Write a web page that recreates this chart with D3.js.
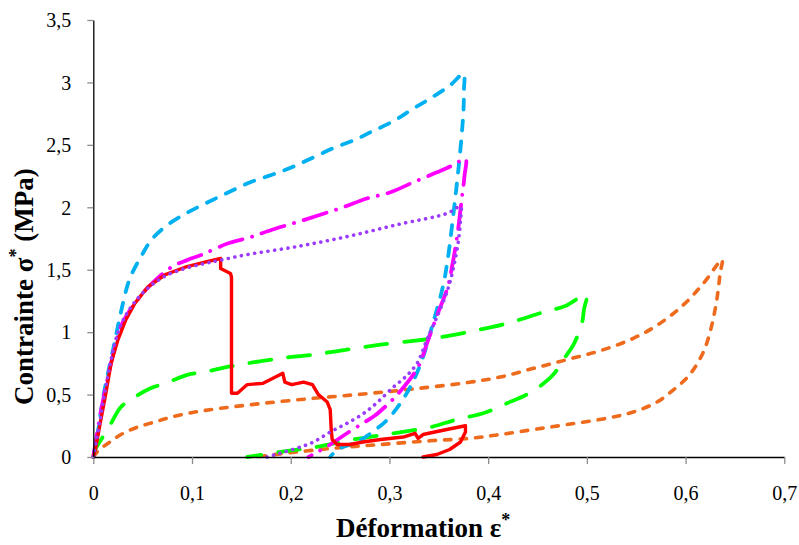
<!DOCTYPE html>
<html>
<head>
<meta charset="utf-8">
<script src="https://cdn.jsdelivr.net/npm/d3@7"></script>
<style>
  html, body { margin: 0; padding: 0; background: #fff; }
  svg { display: block; }
  text { font-family: "Liberation Serif", "Times New Roman", "DejaVu Serif", serif; }
</style>
</head>
<body>
<svg id="chart" width="799" height="545"></svg>
<script>
// ---- Data (strain ε*, stress σ* in MPa) ----
const xTicks = [0, 0.1, 0.2, 0.3, 0.4, 0.5, 0.6, 0.7];
const yTicks = [0, 0.5, 1, 1.5, 2, 2.5, 3, 3.5];

const blueStrain = [0, 0.005, 0.010, 0.020, 0.030, 0.037, 0.048, 0.060, 0.078, 0.096, 0.116, 0.137, 0.159, 0.181, 0.201, 0.223, 0.245, 0.265, 0.283, 0.304, 0.324, 0.343, 0.362, 0.375,
  0.3755, 0.375, 0.373, 0.369, 0.365, 0.359, 0.354, 0.344, 0.334, 0.323, 0.311, 0.298, 0.281, 0.267, 0.250, 0.242, 0.240];
const blueStress = [0, 0.22, 0.48, 0.86, 1.23, 1.43, 1.60, 1.75, 1.875, 1.96, 2.04, 2.12, 2.20, 2.26, 2.32, 2.40, 2.48, 2.54, 2.61, 2.69, 2.79, 2.88, 2.98, 3.07,
  2.94, 2.78, 2.56, 2.24, 1.96, 1.58, 1.36, 1.07, 0.80, 0.59, 0.43, 0.30, 0.19, 0.12, 0.07, 0.02, 0];

const magentaStrain = [0, 0.008, 0.022, 0.030, 0.045, 0.057, 0.079, 0.096, 0.110, 0.136, 0.159, 0.181, 0.206, 0.230, 0.253, 0.277, 0.301, 0.324, 0.348, 0.365, 0.377,
  0.376, 0.373, 0.369, 0.364, 0.359, 0.349, 0.338, 0.329, 0.308, 0.298, 0.285, 0.273, 0.257, 0.240, 0.227, 0.218];
const magentaStress = [0, 0.38, 0.88, 1.08, 1.26, 1.37, 1.52, 1.58, 1.62, 1.71, 1.76, 1.82, 1.88, 1.94, 2.00, 2.07, 2.12, 2.20, 2.28, 2.34, 2.39,
  2.25, 2.05, 1.79, 1.55, 1.36, 1.15, 0.91, 0.72, 0.50, 0.42, 0.33, 0.27, 0.19, 0.10, 0.04, 0];

const purpleStrain = [0, 0.007, 0.017, 0.027, 0.040, 0.055, 0.073, 0.093, 0.113, 0.128, 0.155, 0.206, 0.257, 0.3075, 0.358, 0.372,
  0.372, 0.370, 0.365, 0.359, 0.348, 0.338, 0.328, 0.316, 0.304, 0.288, 0.274, 0.257, 0.240, 0.223, 0.206, 0.189, 0.176];
const purpleStress = [0, 0.30, 0.74, 1.04, 1.22, 1.35, 1.45, 1.51, 1.55, 1.575, 1.62, 1.685, 1.765, 1.86, 1.95, 2.005,
  1.90, 1.74, 1.52, 1.34, 1.12, 0.94, 0.75, 0.64, 0.56, 0.44, 0.35, 0.27, 0.20, 0.12, 0.07, 0.03, 0];

const redStrain = [0, 0.002, 0.007, 0.012, 0.018, 0.025, 0.033, 0.042, 0.055, 0.073, 0.093, 0.113, 0.129,
  0.129, 0.139, 0.140, 0.140, 0.146, 0.156, 0.172, 0.182, 0.192, 0.194, 0.201, 0.213, 0.222, 0.228, 0.237, 0.240, 0.241, 0.242, 0.247,
  0.260, 0.273, 0.291, 0.314, 0.326, 0.329, 0.334, 0.358, 0.377, 0.377, 0.372, 0.361, 0.348, 0.334];
const redStress = [0, 0.055, 0.27, 0.48, 0.75, 0.94, 1.10, 1.23, 1.36, 1.46, 1.52, 1.56, 1.59,
  1.51, 1.47, 1.44, 0.51, 0.51, 0.58, 0.59, 0.63, 0.67, 0.60, 0.58, 0.60, 0.58, 0.50, 0.44, 0.38, 0.22, 0.14, 0.10,
  0.10, 0.12, 0.14, 0.16, 0.19, 0.15, 0.18, 0.22, 0.25, 0.20, 0.12, 0.06, 0.02, 0];

const greenStrain = [0, 0.002, 0.008, 0.018, 0.028, 0.042, 0.058, 0.076, 0.096, 0.113, 0.129, 0.156, 0.189, 0.223, 0.257, 0.291, 0.324, 0.345, 0.379, 0.419, 0.456, 0.478, 0.4995,
  0.497, 0.495, 0.4865, 0.478, 0.466, 0.453, 0.439, 0.419, 0.395, 0.368, 0.342, 0.304, 0.263, 0.226, 0.189, 0.156];
const greenStress = [0, 0.06, 0.14, 0.27, 0.40, 0.48, 0.55, 0.60, 0.66, 0.68, 0.71, 0.75, 0.79, 0.82, 0.86, 0.90, 0.93, 0.95, 1.00, 1.07, 1.16, 1.21, 1.30,
  1.18, 1.07, 0.90, 0.80, 0.66, 0.57, 0.50, 0.43, 0.35, 0.30, 0.24, 0.19, 0.14, 0.08, 0.04, 0];

const orangeStrain = [0, 0.005, 0.015, 0.028, 0.045, 0.062, 0.079, 0.103, 0.129, 0.172, 0.223, 0.274, 0.324, 0.378, 0.412, 0.446, 0.480, 0.513, 0.547, 0.574, 0.598, 0.618, 0.637,
  0.635, 0.632, 0.627, 0.620, 0.612, 0.602, 0.588, 0.571, 0.547, 0.520, 0.480, 0.446, 0.412, 0.382, 0.341, 0.291, 0.257, 0.206, 0.164];
const orangeStress = [0, 0.05, 0.11, 0.18, 0.24, 0.28, 0.32, 0.36, 0.39, 0.43, 0.47, 0.505, 0.545, 0.595, 0.64, 0.71, 0.78, 0.85, 0.95, 1.07, 1.22, 1.39, 1.58,
  1.47, 1.28, 1.07, 0.88, 0.75, 0.64, 0.54, 0.44, 0.36, 0.31, 0.26, 0.22, 0.18, 0.15, 0.13, 0.10, 0.08, 0.04, 0];

const series = [
  { name: "orange", strain: orangeStrain, stress: orangeStress, color: "#EE6B1E", width: 3.6, dash: "6.5,9", smooth: true },
  { name: "green", strain: greenStrain, stress: greenStress, color: "#00FF00", width: 3.8, dash: "22,17", smooth: true },
  { name: "blue", strain: blueStrain, stress: blueStress, color: "#00B0F0", width: 3.8, dash: "10,11", smooth: true },
  { name: "magenta", strain: magentaStrain, stress: magentaStress, color: "#FF00FF", width: 3.8, dash: "24,10,0.1,10", smooth: true },
  { name: "red", strain: redStrain, stress: redStress, color: "#FF0000", width: 3.4, dash: null, smooth: false },
  { name: "purple", strain: purpleStrain, stress: purpleStress, color: "#9B3BFF", width: 3.6, dash: "0.1,6.6", smooth: true }
];

// ---- Layout ----
const svg = d3.select("#chart");
const plotLeft = 93.3, plotRight = 784.3, plotTop = 20, plotBottom = 457;
const serif = "'Liberation Serif', 'Times New Roman', 'DejaVu Serif', serif";

const x = d3.scaleLinear().domain([0, 0.7]).range([plotLeft, plotRight]);
const y = d3.scaleLinear().domain([0, 3.5]).range([plotBottom, plotTop]);
const fmt = d => String(d).replace(".", ",");

// Curves
const g = svg.append("g");
series.forEach(s => {
  const pts = s.strain.map((v, i) => [v, s.stress[i]]);
  const line = d3.line()
    .x(d => x(d[0])).y(d => y(d[1]))
    .curve(s.smooth ? d3.curveCatmullRom.alpha(0.5) : d3.curveLinear);
  g.append("path")
    .attr("d", line(pts))
    .attr("fill", "none")
    .attr("stroke", s.color)
    .attr("stroke-width", s.width)
    .attr("stroke-linecap", "round")
    .attr("stroke-linejoin", "round")
    .attr("stroke-dasharray", s.dash);
});

// Y axis
const yAxis = svg.append("g")
  .attr("transform", `translate(${plotLeft},0)`)
  .call(d3.axisLeft(y).tickValues(yTicks).tickSize(6).tickSizeOuter(0).tickFormat(fmt));
yAxis.attr("font-family", serif);
yAxis.select(".domain").attr("stroke", "#000").attr("stroke-width", 1.3);
yAxis.selectAll(".tick line").attr("stroke", "#8c8c8c").attr("stroke-width", 1.3);
yAxis.selectAll(".tick text")
  .attr("x", -22).attr("dy", "0.34em")
  .attr("font-size", 20).attr("fill", "#000")
  .style("font-family", serif);

// X axis
const xAxis = svg.append("g")
  .attr("transform", `translate(0,${plotBottom})`)
  .call(d3.axisBottom(x).tickValues(xTicks).tickSize(7).tickSizeOuter(0).tickFormat(fmt));
xAxis.attr("font-family", serif);
xAxis.select(".domain").attr("stroke", "#000").attr("stroke-width", 1.3);
xAxis.selectAll(".tick line").attr("stroke", "#8c8c8c").attr("stroke-width", 1.3);
xAxis.selectAll(".tick text")
  .attr("y", 43).attr("dy", 0)
  .attr("font-size", 20).attr("fill", "#000")
  .style("font-family", serif);

// Axis titles
const xt = svg.append("text")
  .attr("x", 336).attr("y", 537)
  .style("font-family", serif)
  .attr("font-size", 27).attr("font-weight", "bold").attr("fill", "#000");
xt.append("tspan").text("Déformation ε");
xt.append("tspan").text("*").attr("font-size", 18).attr("dy", -11);

const yt = svg.append("text")
  .attr("transform", "translate(33,405) rotate(-90)")
  .attr("x", 0).attr("y", 0)
  .style("font-family", serif)
  .attr("font-size", 27).attr("font-weight", "bold").attr("fill", "#000");
yt.append("tspan").text("Contrainte σ");
yt.append("tspan").text("*").attr("font-size", 18).attr("dy", -11);
yt.append("tspan").text(" (MPa)").attr("dy", 11);
</script>
</body>
</html>
